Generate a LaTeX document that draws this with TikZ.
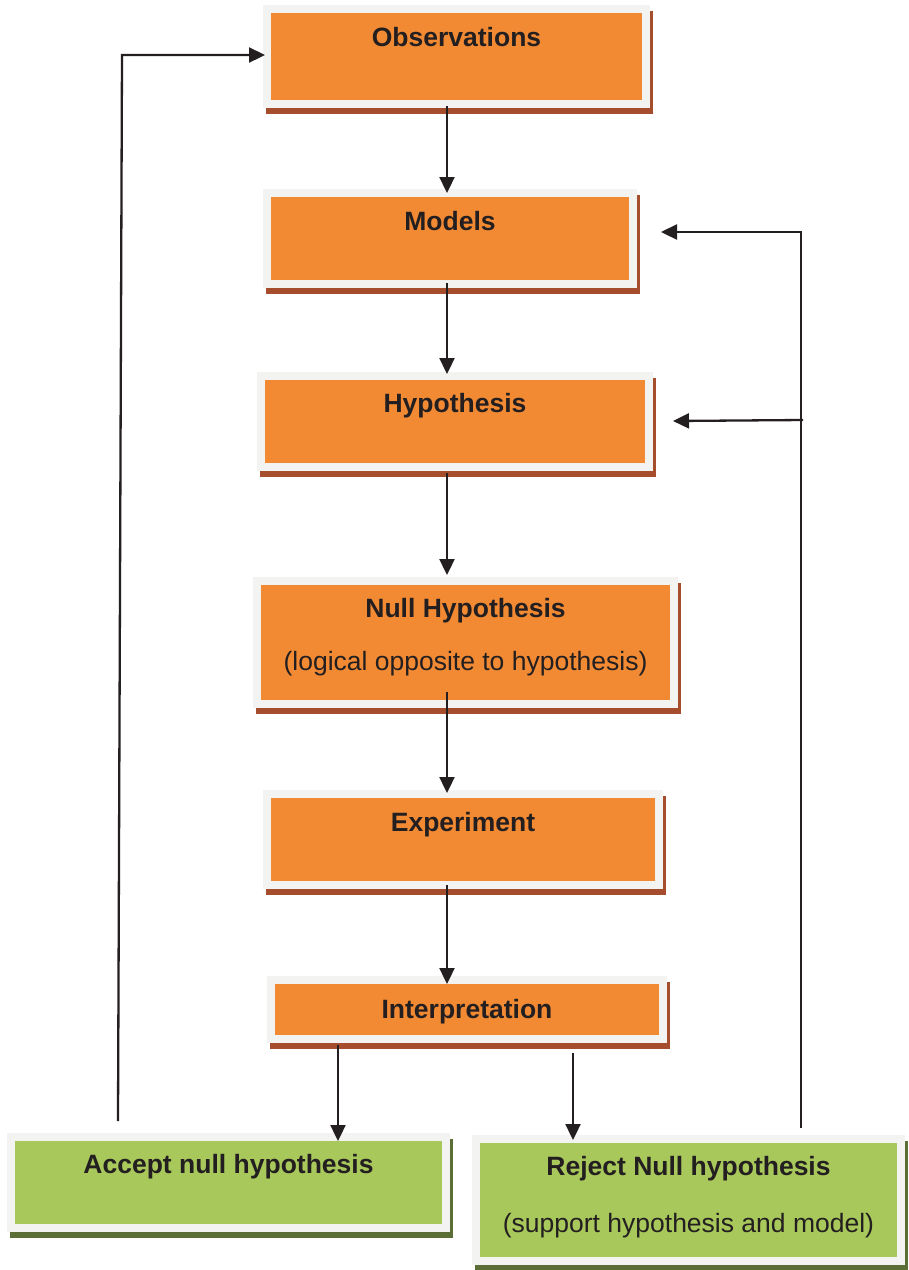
\documentclass[tikz,border=0pt]{standalone}
\usepackage{fontspec}
\setmainfont{Liberation Sans}
\usetikzlibrary{arrows.meta,calc}
\definecolor{frameC}{HTML}{F3F3F1}
\definecolor{orangeC}{HTML}{F28A34}
\definecolor{brownC}{HTML}{A64D2E}
\definecolor{greenC}{HTML}{A8C85B}
\definecolor{gshadowC}{HTML}{5B6E36}
\definecolor{inkC}{HTML}{231F20}
\newcommand\mybox[7]{%
  \fill[#7] (#2+3,#3+6) rectangle (#4+3,#5+6);
  \node[boxnode, fill=#6, minimum width={(#4-#2-8)*1pt}, minimum height={(#5-#3-8)*1pt}]
    (#1) at ({(#2+#4)/2},{(#3+#5)/2}) {};
}
\begin{document}
\begin{tikzpicture}[x=1pt,y=-1pt,
  boxnode/.style={draw=frameC, line width=8pt, inner sep=0pt, outer sep=0pt, rectangle},
  lbl/.style={anchor=base, inner sep=0pt, text=inkC, font=\fontsize{26.5}{30}\selectfont\bfseries},
  sub/.style={anchor=base, inner sep=0pt, text=inkC, font=\fontsize{26.5}{30}\selectfont},
  arr/.style={draw=inkC, line width=2.3pt, -{Triangle[length=16pt,width=15pt]}}]
\useasboundingbox (0,0) rectangle (909,1270);
\fill[white] (0,0) rectangle (909,1270);
\mybox{obs}{263}{5}{650}{108}{orangeC}{brownC}
\mybox{mod}{263}{189}{637}{288}{orangeC}{brownC}
\mybox{hyp}{257}{372}{653}{471}{orangeC}{brownC}
\mybox{nul}{253}{577}{678}{708}{orangeC}{brownC}
\mybox{exp}{263}{790}{663}{889}{orangeC}{brownC}
\mybox{int}{267}{976}{667}{1043}{orangeC}{brownC}
\mybox{acc}{7}{1133}{450}{1232}{greenC}{gshadowC}
\mybox{rej}{472}{1135}{905}{1265}{greenC}{gshadowC}
\node[lbl] (obsT) at ($(obs.north)+(0,37)$) {Observations};
\node[lbl] (modT) at ($(mod.north)+(0,37)$) {Models};
\node[lbl] (hypT) at ($(hyp.north)+(0,36)$) {Hypothesis};
\node[lbl] (nulT) at ($(nul.north)+(0,36)$) {Null Hypothesis};
\node[sub] (nulS) at ($(nul.north)+(0,89)$) {(logical opposite to hypothesis)};
\node[lbl] (expT) at ($(exp.north)+(0,37)$) {Experiment};
\node[lbl] (intT) at ($(int.north)+(0,38)$) {Interpretation};
\node[lbl] (accT) at ($(acc.north)+(0,36)$) {Accept null hypothesis};
\node[lbl] (rejT) at ($(rej.north)+(0,36)$) {Reject Null hypothesis};
\node[sub] (rejS) at ($(rej.north)+(0,93)$) {(support hypothesis and model)};
% vertical connectors
\coordinate (ax) at (447,0);
\coordinate (lx) at (338,0);
\coordinate (rx) at (573,0);
\draw[arr] ($(obs.south -| ax)+(0,2)$) -- (mod.north -| ax);
\draw[arr] ($(mod.south -| ax)+(0,-1)$) -- ($(hyp.north -| ax)+(0,-2)$);
\draw[arr] ($(hyp.south -| ax)+(0,6)$) -- ($(nul.north -| ax)+(0,-6)$);
\draw[arr] ($(nul.south -| ax)+(0,-12)$) -- ($(exp.north -| ax)+(0,-1)$);
\draw[arr] (exp.south -| ax) -- ($(int.north -| ax)+(0,4)$);
\draw[arr] ($(int.south -| lx)+(0,6)$) -- ($(acc.north -| lx)+(0,4)$);
\draw[arr] ($(int.south -| rx)+(0,14)$) -- ($(rej.north -| rx)+(0,1)$);
% feedback loops
\coordinate (lb) at (118,1121);
\coordinate (lt) at (122,55);
\draw[arr] (lb) -- (lt) -- ($(obs.west |- lt)+(-2,0)$);
\coordinate (rb) at (801,1128);
\coordinate (rt) at (801,232);
\draw[arr] (rb) -- (rt) -- ($(mod.east |- rt)+(28,0)$);
\coordinate (rm) at (803,420);
\draw[arr] (rm) -- ($(hyp.east |- rm)+(24,1)$);
\end{tikzpicture}
\end{document}
